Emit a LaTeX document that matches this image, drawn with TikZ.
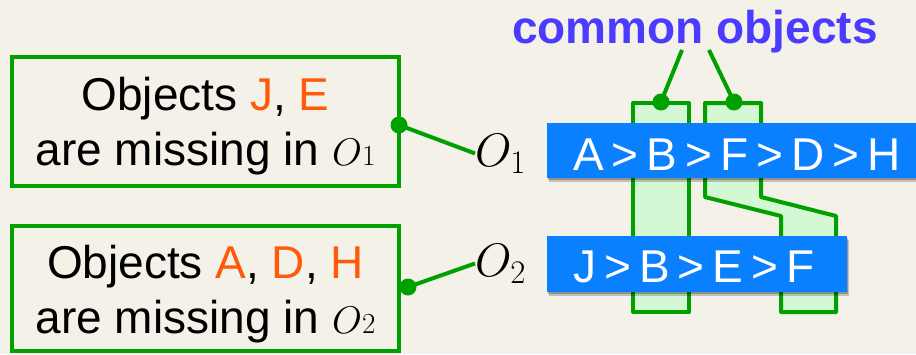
\RequirePackage{fix-cm}
\documentclass[tikz,border=0pt]{standalone}
\usepackage{graphicx}
\usepackage{fontspec}
\setmainfont{Liberation Sans}
\usetikzlibrary{shadows}
\definecolor{bg}{HTML}{F4F1E8}
\definecolor{grn}{HTML}{00A000}
\definecolor{lgrn}{HTML}{D4F8D4}
\definecolor{blu}{HTML}{0A80FF}
\definecolor{org}{HTML}{FF5A0A}
\definecolor{vio}{HTML}{4A3BFF}
\newcommand{\gp}{\hspace{8pt}}
\newcommand{\inO}[1]{\scalebox{0.82}{\fontsize{47}{50}\selectfont$O$}\scalebox{0.62}{\fontsize{47}{50}\selectfont$#1$}}
\begin{document}
\begin{tikzpicture}[x=1pt,y=-1pt,
  missbox/.style={draw=grn, line width=4pt, inner sep=0pt, minimum width=387pt},
  txt/.style={inner sep=0pt, font=\fontsize{46}{55}\selectfont},
  bar/.style={fill=blu, inner sep=0pt,
    drop shadow={shadow xshift=1pt, shadow yshift=-2pt, opacity=.25, fill=black},
    drop shadow={shadow xshift=2pt, shadow yshift=-4pt, opacity=.2, fill=black}},
  bartxt/.style={inner sep=0pt, text=white, font=\fontsize{46}{50}\selectfont, anchor=base west},
  col/.style={draw=grn, fill=lgrn, line width=4pt, line join=round},
  conn/.style={draw=grn, line width=4pt},
  dot/.style={fill=grn}]
\useasboundingbox (0,0) rectangle (916,354);
\fill[bg] (0,0) rectangle (916,354);

% common-object columns
\draw[col] (633,103) rectangle (689,312);
\draw[col] (705,103) -- (761,103) -- (761,197) -- (836,216) -- (836,312)
  -- (781,312) -- (781,216) -- (705,197) -- cycle;

% label for common objects
\node[inner sep=0pt, anchor=base west, text=vio, font=\bfseries\fontsize{46}{50}\selectfont] (co) at (512,43) {common objects};
\coordinate (c1) at (682,50);
\coordinate (c2) at (709,50);
\coordinate (k1) at (661,102);
\coordinate (k2) at (734,102);
\draw[conn] (c1) -- (k1);
\draw[conn] (c2) -- (k2);
\fill[dot] (k1) circle (8.5);
\fill[dot] (k2) circle (8.5);

% orders
\node[bar, minimum width=369pt, minimum height=55pt] (s1) at (731.5,150.5) {};
\node[bar, minimum width=300pt, minimum height=56pt] (s2) at (697,264) {};
\node[bartxt] (s1t) at (573,170) {A\gp>\gp B\gp>\gp F\gp>\gp D\gp>\gp H};
\node[bartxt] (s2t) at (573,282) {J\gp>\gp B\gp>\gp E\gp>\gp F};

% order names
\node[inner sep=0pt, anchor=base west, font=\fontsize{47}{50}\selectfont] (o1) at (475,166) {$O_1$};
\node[inner sep=0pt, anchor=base west, font=\fontsize{47}{50}\selectfont] (o2) at (475,276) {$O_2$};

% missing boxes
\node[missbox, minimum height=129pt] (m1) at (205.5,121.5) {};
\node[missbox, minimum height=125pt] (m2) at (205.5,288.5) {};
\node[txt, anchor=base] (m1a) at (205.5,110) {Objects \textcolor{org}{J}, \textcolor{org}{E}};
\node[txt, anchor=base] (m1b) at (205.5,165) {are missing in \inO{1}};
\node[txt, anchor=base] (m2a) at (205.5,278) {Objects \textcolor{org}{A}, \textcolor{org}{D}, \textcolor{org}{H}};
\node[txt, anchor=base] (m2b) at (205.5,333) {are missing in \inO{2}};

% connectors
\coordinate (d1) at (399,125);
\coordinate (d2) at (408,287);
\draw[conn] (d1) -- (o1.west);
\draw[conn] (d2) -- (o2.west);
\fill[dot] (d1) circle (8.5);
\fill[dot] (d2) circle (8.5);
\end{tikzpicture}
\end{document}
